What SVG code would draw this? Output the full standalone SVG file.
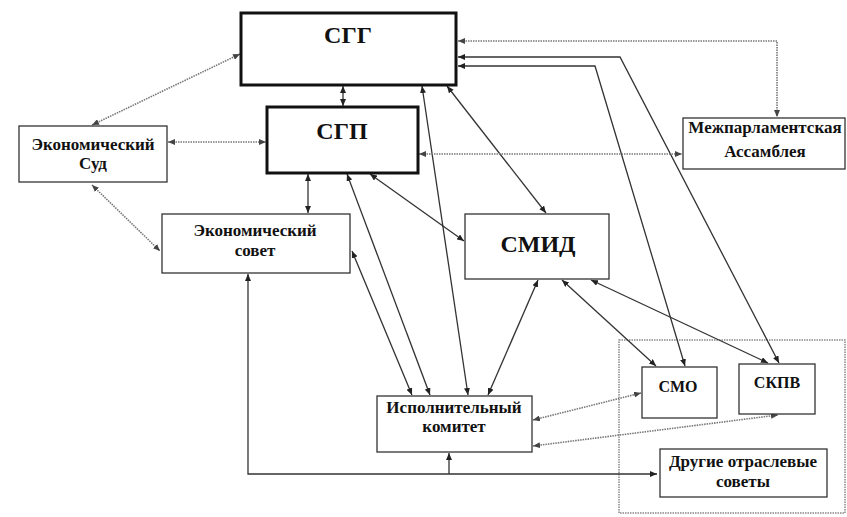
<svg xmlns="http://www.w3.org/2000/svg" width="847" height="517" viewBox="0 0 847 517">
<style>
.box{fill:#fff;stroke:#333;stroke-width:1.3}
.thick{fill:#fff;stroke:#111;stroke-width:3}
.t{font-family:"Liberation Serif","DejaVu Serif","Times New Roman",serif;font-weight:bold;fill:#111;text-anchor:middle}
.big{font-size:24px}
.mid{font-size:17px}
.sm{font-size:16px}
.s{fill:none;stroke:#333;stroke-width:1.3;marker-start:url(#a);marker-end:url(#a)}
.d{fill:none;stroke:#777;stroke-width:1.6;stroke-dasharray:1.5 1;marker-start:url(#ad);marker-end:url(#ad)}
.e{fill:none;stroke:#333;stroke-width:1.3}
</style>
<defs>
<marker id="a" markerUnits="userSpaceOnUse" markerWidth="7" markerHeight="6" refX="7" refY="3" orient="auto-start-reverse"><path d="M0,0 L7,3 L0,6 z" fill="#222"/></marker>
<marker id="ad" markerUnits="userSpaceOnUse" markerWidth="7" markerHeight="6" refX="7" refY="3" orient="auto-start-reverse"><path d="M0,0 L7,3 L0,6 z" fill="#444"/></marker>
</defs>
<rect width="847" height="517" fill="#fff"/>
<rect x="619" y="340" width="226" height="173" fill="none" stroke="#888" stroke-width="1.5" stroke-dasharray="1.5 1"/>
<g id="connectors">
<path class="s" d="M343,86 L343,106"/>
<path class="s" d="M308,174 L308,213"/>
<path class="s" d="M352,251 L412,395"/>
<path class="s" d="M347,174 L430,395"/>
<path class="s" d="M422,86 L468,395"/>
<path class="s" d="M538,280 L488,395"/>
<path class="s" d="M370,174 L464,241"/>
<path class="s" d="M447,86 L546,213"/>
<path class="s" d="M562,280 L656,366"/>
<path class="s" d="M591,280 L768,363"/>
<path class="s" d="M458,66 L595,66 L685,366"/>
<path class="s" d="M458,57 L620,57 L779,363"/>
<path class="s" d="M248,274 L248,474 L657,474"/>
<path class="e" d="M449,474 L449,453" marker-end="url(#a)"/>
<path class="d" d="M92,125 L240,54"/>
<path class="d" d="M168,142 L266,142"/>
<path class="d" d="M92,185 L160,251"/>
<path class="d" d="M458,41 L777,41 L777,117"/>
<path class="d" d="M419,154 L682,154"/>
<path class="d" d="M533,420 L641,393"/>
<path class="d" d="M533,446 L778,415"/>
</g>
<g id="sgg"><rect class="thick" x="241" y="13" width="215" height="72"/><text class="t big" x="348" y="43">СГГ</text></g>
<g id="sgp"><rect class="thick" x="267" y="107" width="151" height="66"/><text class="t big" x="342" y="139">СГП</text></g>
<g id="econ-court"><rect class="box" x="19" y="126" width="148" height="56"/><text class="t mid" x="93" y="150">Экономический</text><text class="t mid" x="93" y="169">Суд</text></g>
<g id="econ-council"><rect class="box" x="162" y="214" width="188" height="59"/><text class="t mid" x="255" y="236">Экономический</text><text class="t mid" x="255" y="256">совет</text></g>
<g id="ipa"><rect class="box" x="683" y="118" width="162" height="51"/><text class="t mid" x="765" y="133">Межпарламентская</text><text class="t mid" x="765" y="157">Ассамблея</text></g>
<g id="smid"><rect class="box" x="465" y="214" width="144" height="65"/><text class="t big" x="538" y="252">СМИД</text></g>
<g id="exec"><rect class="box" x="377" y="396" width="155" height="56"/><text class="t mid" x="454" y="413">Исполнительный</text><text class="t mid" x="454" y="432">комитет</text></g>
<g id="smo"><rect class="box" x="642" y="367" width="75" height="51"/><text class="t sm" x="678" y="392">СМО</text></g>
<g id="skpv"><rect class="box" x="739" y="364" width="76" height="50"/><text class="t sm" x="777" y="388">СКПВ</text></g>
<g id="other"><rect class="box" x="660" y="449" width="167" height="48"/><text class="t mid" x="743" y="467">Другие отраслевые</text><text class="t mid" x="743" y="487">советы</text></g>
</svg>
